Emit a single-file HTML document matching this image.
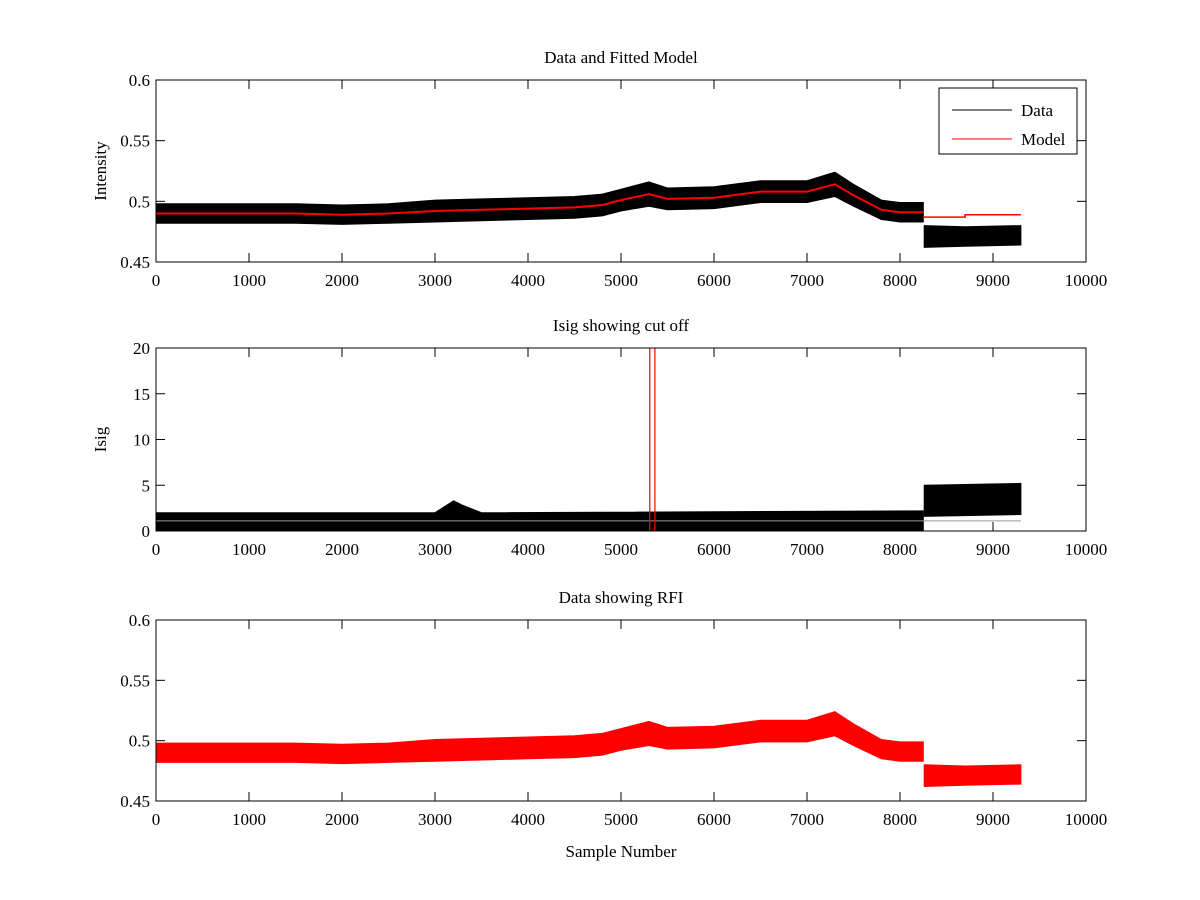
<!DOCTYPE html>
<html><head><meta charset="utf-8">
<style>
body{margin:0;background:#fff;}
svg{display:block;font-family:"Liberation Serif",serif;}
text{font-size:17px;fill:#000;}
</style></head>
<body>
<svg id="fig" width="1200" height="900" viewBox="0 0 1200 900" xmlns="http://www.w3.org/2000/svg"></svg>
<script>
// ---- data ----
const sampleKnots = [0,500,1000,1500,2000,2500,3000,3500,4000,4500,4800,5000,5300,5500,6000,6500,7000,7300,7500,7800,8000,8250];
const intensityCenter = [0.490,0.490,0.490,0.490,0.489,0.490,0.492,0.493,0.494,0.495,0.497,0.501,0.506,0.502,0.503,0.508,0.508,0.514,0.505,0.493,0.491,0.491];
const intensityHalfWidth = [0.008,0.008,0.008,0.008,0.008,0.008,0.009,0.009,0.009,0.009,0.009,0.009,0.010,0.009,0.009,0.009,0.009,0.010,0.009,0.008,0.008,0.008];
const tailKnots = [8260,8700,9300];
const tailCenter = [0.471,0.471,0.472];
const tailHalfWidth = [0.009,0.008,0.008];
const modelTailKnots = [8250,8700,8700,9300];
const modelTail = [0.487,0.487,0.489,0.489];
const isigKnots = [0,3000,3200,3300,3500,8250];
const isigUpper = [2.0,2.0,3.3,2.8,2.0,2.2];
const isigTailKnots = [8260,9300];
const isigTailLower = [1.6,1.8];
const isigTailUpper = [5.0,5.2];
const cutoffLevel = 1.1;
const cutoffEnd = 9300;
const rfiSamples = [5310,5365];
const xTicks = [0,1000,2000,3000,4000,5000,6000,7000,8000,9000,10000];
const intensityTicks = [0.45,0.5,0.55,0.6];
const intensityTickLabels = ["0.45","0.5","0.55","0.6"];
const isigTicks = [0,5,10,15,20];

const NS="http://www.w3.org/2000/svg";
const svg=document.getElementById('fig');
function el(tag,attrs,parent){const e=document.createElementNS(NS,tag);for(const k in attrs)e.setAttribute(k,attrs[k]);(parent||svg).appendChild(e);return e;}

function makeAxes(name,top,bottom,ymin,ymax,yt,ytl,title,ylabel,xlabel){
  const L=156,R=1086;
  const g=el('g',{});
  
  
  const sx=v=>L+(v-0)/10000*(R-L);
  const sy=v=>bottom-(v-ymin)/(ymax-ymin)*(bottom-top);
  const r=el('rect',{x:L,y:top,width:R-L,height:bottom-top,fill:'#fff',stroke:'none'},g);
  
  
  const marks=el('g',{},g);
  const axg=el('g',{},g);
  xTicks.forEach(t=>{
    const x=sx(t);
    el('line',{x1:x,x2:x,y1:bottom,y2:bottom-9,stroke:'#000'},axg);
    el('line',{x1:x,x2:x,y1:top,y2:top+9,stroke:'#000'},axg);
    const tx=el('text',{x:x,y:bottom+24,'text-anchor':'middle'},axg);
    tx.textContent=t;
    
    
  });
  yt.forEach((t,i)=>{
    const y=sy(t);
    el('line',{x1:L,x2:L+9,y1:y,y2:y,stroke:'#000'},axg);
    el('line',{x1:R,x2:R-9,y1:y,y2:y,stroke:'#000'},axg);
    const tx=el('text',{x:L-6,y:y+6,'text-anchor':'end'},axg);
    tx.textContent=ytl[i];
    
    
  });
  el('rect',{x:L,y:top,width:R-L,height:bottom-top,fill:'none',stroke:'#000'},axg);
  const tt=el('text',{x:(L+R)/2,y:top-17,'text-anchor':'middle'},axg);
  tt.textContent=title;
  
  
  if(ylabel){
    const cy=(top+bottom)/2;
    const yl=el('text',{x:0,y:0,'text-anchor':'middle',transform:`translate(106,${cy}) rotate(-90)`},axg);
    yl.textContent=ylabel;
    
    
  }
  if(xlabel){
    const xl=el('text',{x:(L+R)/2,y:bottom+56,'text-anchor':'middle'},axg);
    xl.textContent=xlabel;
    
    
  }
  return {sx,sy,marks};
}

function band(ax,xs,lo,hi,color,name){
  let d='';
  xs.forEach((x,i)=>{d+=(i?'L':'M')+ax.sx(x).toFixed(1)+','+ax.sy(hi[i]).toFixed(1);});
  for(let i=xs.length-1;i>=0;i--)d+='L'+ax.sx(xs[i]).toFixed(1)+','+ax.sy(lo[i]).toFixed(1);
  const p=el('path',{d:d+'Z',fill:color,stroke:color,'stroke-width':1},ax.marks);
  
  
  return p;
}
function line(ax,xs,ys,color,name,w){
  const pts=xs.map((x,i)=>ax.sx(x).toFixed(1)+','+ax.sy(ys[i]).toFixed(1)).join(' ');
  const p=el('polyline',{points:pts,fill:'none',stroke:color,'stroke-width':w||1.5},ax.marks);
  
  
}
const lo=intensityCenter.map((c,i)=>c-intensityHalfWidth[i]);
const hi=intensityCenter.map((c,i)=>c+intensityHalfWidth[i]);
const tlo=tailCenter.map((c,i)=>c-tailHalfWidth[i]);
const thi=tailCenter.map((c,i)=>c+tailHalfWidth[i]);

// Panel 1
const a1=makeAxes('data-model-axes',80,262,0.45,0.6,intensityTicks,intensityTickLabels,'Data and Fitted Model','Intensity',null);
band(a1,sampleKnots,lo,hi,'#000','data-series');
band(a1,tailKnots,tlo,thi,'#000','data-series-tail');
line(a1,sampleKnots,intensityCenter,'#f00','model-line',2);
line(a1,modelTailKnots,modelTail,'#f00','model-line-tail',1.5);
// legend
const lg=el('g',{});


el('rect',{x:939,y:88,width:138,height:66,fill:'#fff',stroke:'#000'},lg);
el('line',{x1:952,x2:1012,y1:110,y2:110,stroke:'#000'},lg);
el('line',{x1:952,x2:1012,y1:139,y2:139,stroke:'#f00'},lg);
const l1=el('text',{x:1021,y:116},lg);l1.textContent='Data';


const l2=el('text',{x:1021,y:145},lg);l2.textContent='Model';



// Panel 2
const a2=makeAxes('isig-axes',348,531,0,20,isigTicks,isigTicks.map(String),'Isig showing cut off','Isig',null);
band(a2,isigKnots,isigKnots.map(()=>0),isigUpper,'#000','isig-series');
band(a2,isigTailKnots,isigTailLower,isigTailUpper,'#000','isig-series-tail');
line(a2,[0,cutoffEnd],[cutoffLevel,cutoffLevel],'#999','cutoff-line',1);
rfiSamples.forEach(s=>line(a2,[s,s],[0,20],'#f00','rfi-spike',1.2));

// Panel 3
const a3=makeAxes('rfi-axes',620,801,0.45,0.6,intensityTicks,intensityTickLabels,'Data showing RFI',null,'Sample Number');
band(a3,sampleKnots,lo,hi,'#f00','rfi-data-series');
band(a3,tailKnots,tlo,thi,'#f00','rfi-data-series-tail');
</script>
</body></html>
